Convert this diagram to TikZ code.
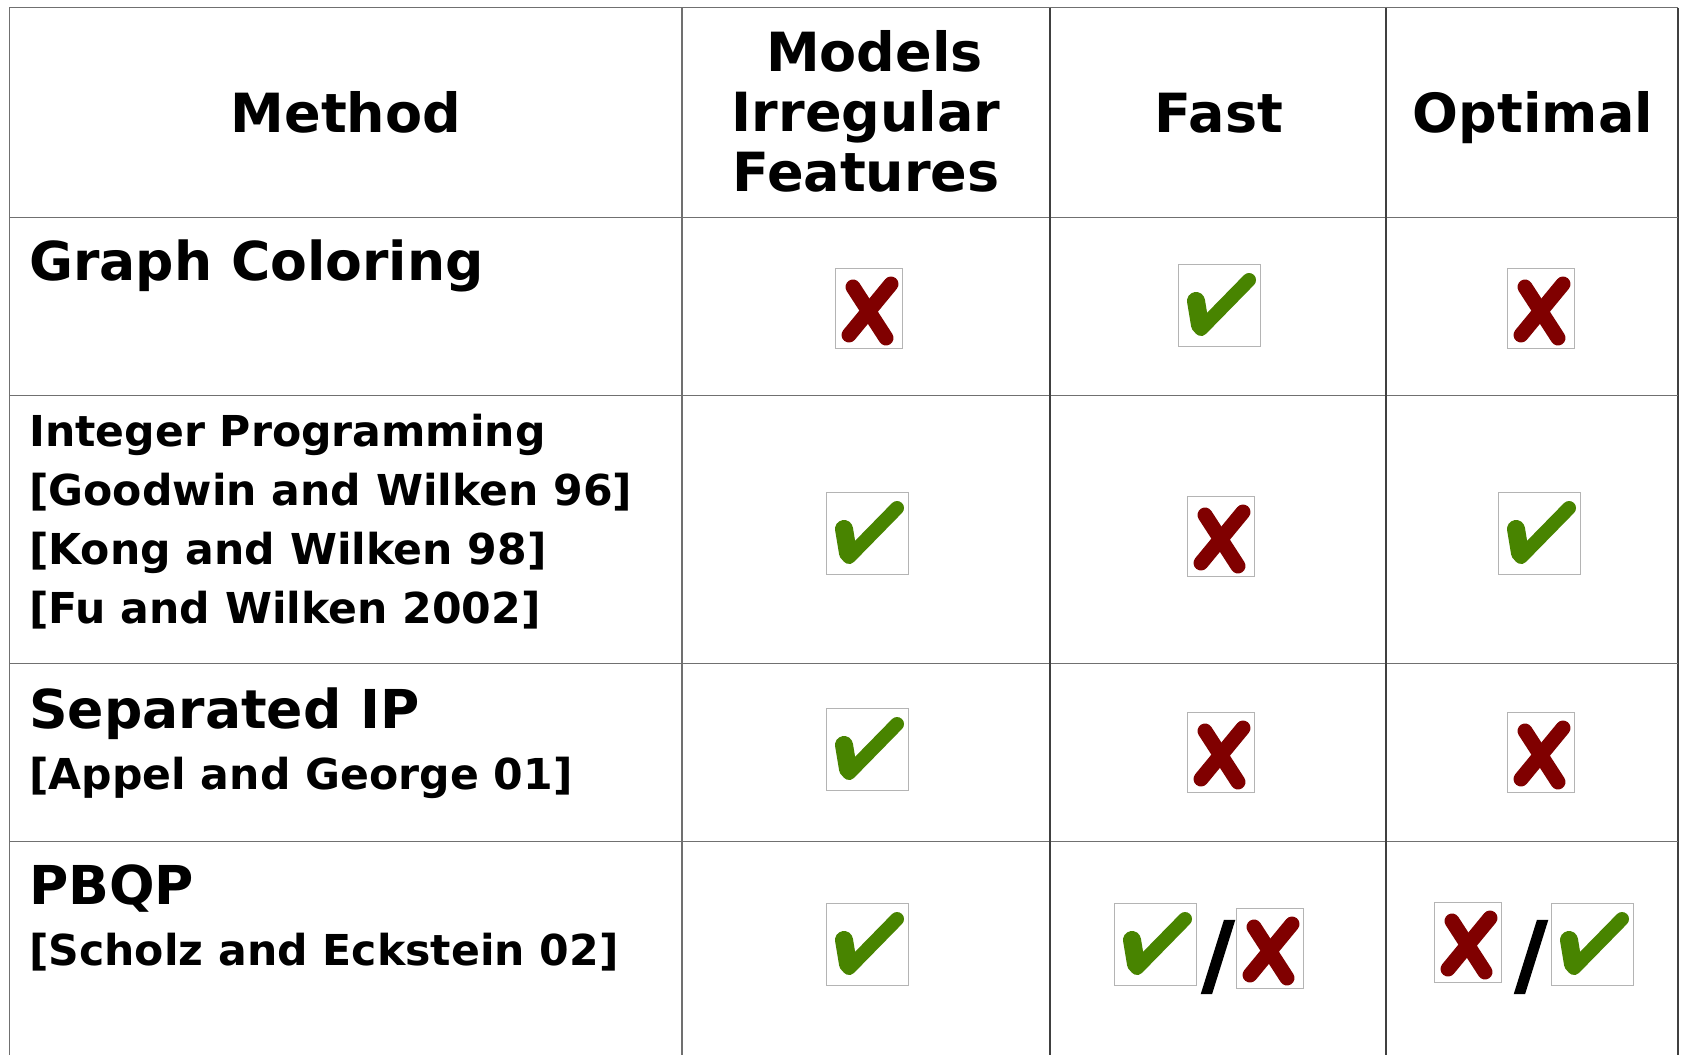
\documentclass[tikz,border=0pt]{standalone}
\usepackage{fontspec}
\setmainfont{DejaVu Sans}
\newfontfamily\slashfont[FakeBold=2]{DejaVu Sans Bold}

\definecolor{gridlight}{HTML}{707070}
\definecolor{griddark}{HTML}{404040}
\definecolor{iconframe}{HTML}{B4B4B4}
\definecolor{okgreen}{RGB}{72,132,0}
\definecolor{nored}{RGB}{128,0,0}

\tikzset{
  gridlight/.style={draw=gridlight, line width=1.6pt},
  griddark/.style={draw=griddark, line width=1.6pt},
  headtext/.style={inner sep=0pt, font=\bfseries\fontsize{54}{60}\selectfont},
  titletext/.style={inner sep=0pt, anchor=base west, font=\bfseries\fontsize{53.6}{60}\selectfont},
  citetext/.style={inner sep=0pt, anchor=base west, font=\bfseries\fontsize{42.6}{50}\selectfont},
  slashtext/.style={inner sep=0pt, anchor=base, font=\slashfont\fontsize{88}{90}\selectfont},
  iconbox/.style={draw=iconframe, line width=1pt, fill=white, inner sep=0pt, outer sep=0pt, anchor=north west},
  okstroke/.style={draw=okgreen, line width=14pt, line cap=round, line join=round},
  okblob/.style={draw=okgreen, line width=18pt, line cap=round},
  nostroke/.style={draw=nored, line width=15pt, line cap=round},
}

% green tick in a framed box: name, left, top
\newcommand\okicon[3]{%
  \node[iconbox, minimum width=82pt, minimum height=82pt] (#1) at (#2,#3) {};
  \draw[okblob] ([shift={(18,37)}]#1.north west) -- ([shift={(22,61)}]#1.north west);
  \draw[okstroke] ([shift={(18,37)}]#1.north west) -- ([shift={(23,65)}]#1.north west)
                  -- ([shift={(71,16)}]#1.north west);
}
% red cross in a framed box: name, left, top
\newcommand\noicon[3]{%
  \node[iconbox, minimum width=67pt, minimum height=80pt] (#1) at (#2,#3) {};
  \draw[nostroke] ([shift={(18,19)}]#1.north west) -- ([shift={(51,70)}]#1.north west);
  \draw[nostroke] ([shift={(56,16)}]#1.north west) -- ([shift={(14,67)}]#1.north west);
}

\begin{document}
\begin{tikzpicture}[x=1pt, y=-1pt]
\useasboundingbox[fill=white] (0,0) rectangle (1681,1055);

% table rules
\draw[gridlight] (9.6,1055) -- (9.6,7.5) -- (1678,7.5);
\draw[griddark] (1678,7.5) -- (1678,1055);
\draw[gridlight] (9.6,217.6) -- (1678,217.6);
\draw[gridlight] (9.6,395.6) -- (1678,395.6);
\draw[gridlight] (9.6,663.6) -- (1678,663.6);
\draw[gridlight] (9.6,841.6) -- (1678,841.6);
\draw[gridlight] (682,7.5) -- (682,1055);
\draw[griddark] (1050,7.5) -- (1050,1055);
\draw[griddark] (1386,7.5) -- (1386,1055);

% column headings
\node[headtext, anchor=base] (hmethod) at (346,132) {Method};
\node[headtext, align=center, anchor=center] (hmodels) at (866,111.5) {\hspace*{17pt}Models\\Irregular\\Features};
\node[headtext, anchor=base] (hfast) at (1219,132) {Fast};
\node[headtext, anchor=base] (hoptimal) at (1533,132) {Optimal};

% method names and references
\node[titletext] (graphcol) at (29,280) {Graph Coloring};

\node[citetext] (intprog) at (29,446) {Integer Programming};
\node[citetext] (goodwin) at (29,505) {[Goodwin and Wilken 96]};
\node[citetext] (kong) at (29,564) {[Kong and Wilken 98]};
\node[citetext] (fu) at (29,623) {[Fu and Wilken 2002]};

\node[titletext] (sepip) at (29,728) {Separated IP};
\node[citetext] (appel) at (29,789) {[Appel and George 01]};

\node[titletext] (pbqp) at (29,904) {PBQP};
\node[citetext] (scholz) at (29,965) {[Scholz and Eckstein 02]};

% graph coloring
\noicon{gcmodels}{835}{268}
\okicon{gcfast}{1178}{264}
\noicon{gcopt}{1507}{268}

% integer programming
\okicon{ipmodels}{826}{492}
\noicon{ipfast}{1187}{496}
\okicon{ipopt}{1498}{492}

% separated IP
\okicon{sepmodels}{826}{708}
\noicon{sepfast}{1187}{712}
\noicon{sepopt}{1507}{712}

% PBQP
\okicon{pbmodels}{826}{903}
\okicon{pbfastok}{1114}{903}
\node[slashtext] (pbfastsl) at (1218,985) {/};
\noicon{pbfastno}{1236}{908}
\noicon{pboptno}{1434}{902}
\node[slashtext] (pboptsl) at (1531,985) {/};
\okicon{pboptok}{1551}{903}
\end{tikzpicture}
\end{document}
